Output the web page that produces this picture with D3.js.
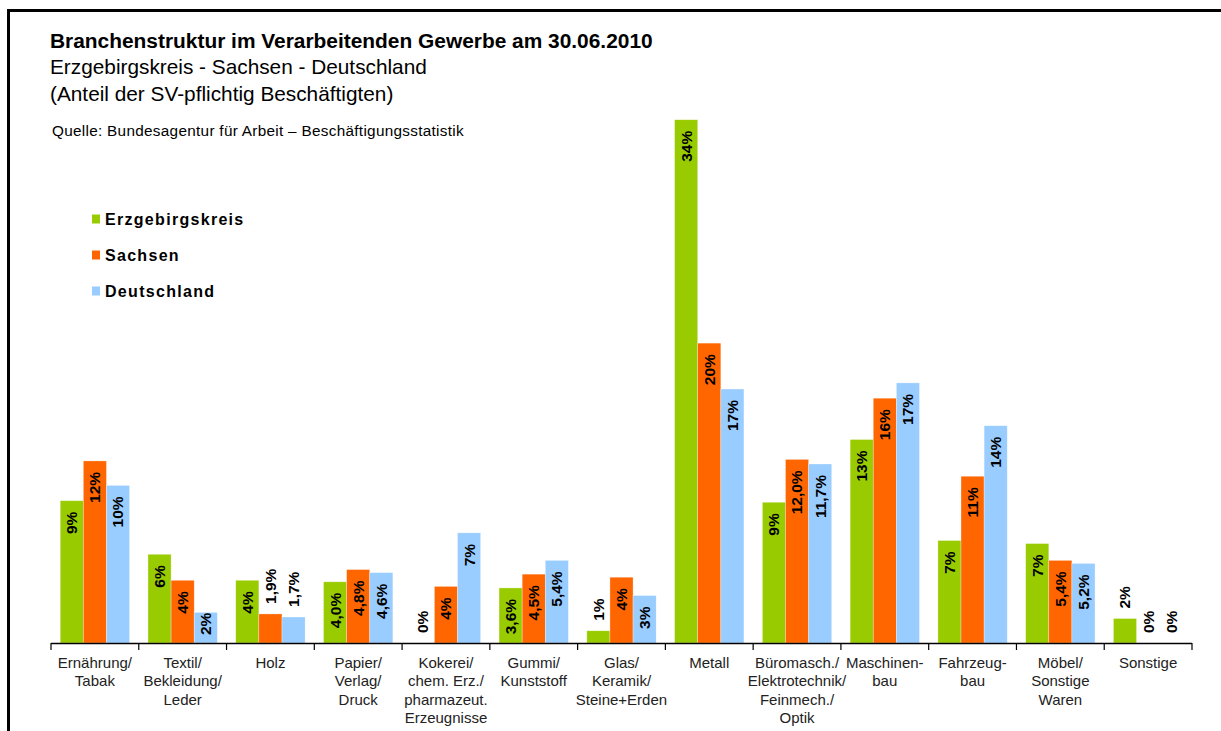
<!DOCTYPE html>
<html>
<head>
<meta charset="utf-8">
<style>
  body { margin: 0; background: #fff; }
  svg text { font-family: "Liberation Sans", Arial, sans-serif; }
</style>
</head>
<body>
<script src="https://cdn.jsdelivr.net/npm/d3@7"></script>
<script>
// categories (line breaks as in the original)
var categories = ["Ernährung/\nTabak", "Textil/\nBekleidung/\nLeder", "Holz", "Papier/\nVerlag/\nDruck",
  "Kokerei/\nchem. Erz./\npharmazeut.\nErzeugnisse", "Gummi/\nKunststoff", "Glas/\nKeramik/\nSteine+Erden",
  "Metall", "Büromasch./\nElektrotechnik/\nFeinmech./\nOptik", "Maschinen-\nbau", "Fahrzeug-\nbau",
  "Möbel/\nSonstige\nWaren", "Sonstige"];
var seriesNames = ["Erzgebirgskreis", "Sachsen", "Deutschland"];

// Anteil in %
var erzgebirge = [9.3, 5.8, 4.1, 4.0, 0, 3.6, 0.8, 34.2, 9.2, 13.3, 6.7, 6.5, 1.6];
var sachsen = [11.9, 4.1, 1.9, 4.8, 3.7, 4.5, 4.3, 19.6, 12.0, 16.0, 10.9, 5.4, 0];
var deutschland = [10.3, 2.0, 1.7, 4.6, 7.2, 5.4, 3.1, 16.6, 11.7, 17.0, 14.2, 5.2, 0];

// data labels as printed
var lblErz = ["9%", "6%", "4%", "4,0%", "0%", "3,6%", "1%", "34%", "9%", "13%", "7%", "7%", "2%"];
var lblSac = ["12%", "4%", "1,9%", "4,8%", "4%", "4,5%", "4%", "20%", "12,0%", "16%", "11%", "5,4%", "0%"];
var lblDeu = ["10%", "2%", "1,7%", "4,6%", "7%", "5,4%", "3%", "17%", "11,7%", "17%", "14%", "5,2%", "0%"];

var colors = ["#99cc00", "#ff6600", "#99ccff"];

var W = 1221, H = 731;
var svg = d3.select("body").append("svg").attr("width", W).attr("height", H);

// frame (top + left)
svg.append("line").attr("x1", 7).attr("x2", W).attr("y1", 10.5).attr("y2", 10.5)
  .attr("stroke", "#000").attr("stroke-width", 3);
svg.append("line").attr("x1", 8.5).attr("x2", 8.5).attr("y1", 9).attr("y2", H)
  .attr("stroke", "#000").attr("stroke-width", 3);

// titles
svg.append("text").attr("x", 50).attr("y", 48).attr("font-size", 20.9).attr("font-weight", "bold")
  .text("Branchenstruktur im Verarbeitenden Gewerbe am 30.06.2010");
svg.append("text").attr("x", 50).attr("y", 74).attr("font-size", 20.8)
  .text("Erzgebirgskreis - Sachsen - Deutschland");
svg.append("text").attr("x", 50).attr("y", 101).attr("font-size", 20.8)
  .text("(Anteil der SV-pflichtig Beschäftigten)");
svg.append("text").attr("x", 52).attr("y", 136).attr("font-size", 15.3).attr("letter-spacing", 0.3)
  .text("Quelle: Bundesagentur für Arbeit – Beschäftigungsstatistik");

var base = 643;
var x0 = d3.scaleBand().domain(categories).range([51, 1192]).paddingInner(0.21).paddingOuter(0.105);
var x1 = d3.scaleBand().domain(seriesNames).range([0, x0.bandwidth()]);
var y = d3.scaleLinear().domain([0, 35]).range([base, base - 35 * 15.3]);

var rows = [erzgebirge, sachsen, deutschland];
var lbls = [lblErz, lblSac, lblDeu];
var data = [];
categories.forEach(function(c, i) {
  seriesNames.forEach(function(s, j) {
    data.push({cat: c, ser: s, v: rows[j][i], lbl: lbls[j][i], col: colors[j]});
  });
});

svg.append("g").selectAll("rect").data(data).join("rect")
  .attr("x", d => x0(d.cat) + x1(d.ser))
  .attr("y", d => y(d.v))
  .attr("width", x1.bandwidth())
  .attr("height", d => base - y(d.v))
  .attr("fill", d => d.col)
  .attr("stroke", "#fff").attr("stroke-width", 0.6).attr("stroke-opacity", 0.5);

// axis
var step = x0.step();
var bounds = d3.range(categories.length + 1).map(i => 51 + i * step);
var ax = svg.append("g");
ax.append("line").attr("x1", 51).attr("x2", 1192).attr("y1", base + 0.5).attr("y2", base + 0.5)
  .attr("stroke", "#000").attr("stroke-width", 1.6);
ax.selectAll(".tk").data(bounds).join("line").attr("class", "tk")
  .attr("x1", d => d).attr("x2", d => d).attr("y1", base).attr("y2", base + 7)
  .attr("stroke", "#000").attr("stroke-width", 1.2);

var cl = svg.append("g").attr("font-size", 15).attr("fill", "#222").attr("text-anchor", "middle")
  .selectAll("text").data(categories).join("text")
  .attr("x", d => x0(d) + x0.bandwidth() / 2).attr("y", 668);
cl.selectAll("tspan").data(d => d.split("\n")).join("tspan")
  .attr("x", function() { return this.parentNode.getAttribute("x"); })
  .attr("dy", (d, i) => i ? 18.4 : 0)
  .text(d => d);

// value labels (rotated)
var vl = svg.append("g").attr("font-size", 15.5).attr("font-weight", "bold").attr("fill", "#000")
  .selectAll("text").data(data).join("text")
  .attr("dy", "0.35em")
  .text(d => d.lbl);
vl.each(function(d) {
  var len = this.getComputedTextLength();
  var cx = x0(d.cat) + x1(d.ser) + x1.bandwidth() / 2;
  var top = y(d.v), h = base - top;
  var t = d3.select(this);
  if (h >= len + 6) {
    var p = Math.min(top + 11, base - 8 - len);
    t.attr("text-anchor", "end").attr("transform", "translate(" + cx + "," + p + ") rotate(-90)");
  } else {
    t.attr("text-anchor", "start").attr("transform", "translate(" + cx + "," + (top - 10) + ") rotate(-90)");
  }
});

// legend
var lg = svg.append("g").selectAll("g").data(seriesNames).join("g")
  .attr("transform", (d, i) => "translate(92," + (219 + i * 36) + ")");
lg.append("rect").attr("x", 0).attr("y", -4.5).attr("width", 8).attr("height", 9)
  .attr("fill", (d, i) => colors[i]);
lg.append("text").attr("x", 13).attr("y", 5.5).attr("font-size", 16).attr("font-weight", "bold")
  .attr("letter-spacing", 1.3).text(d => d);
</script>
</body>
</html>
